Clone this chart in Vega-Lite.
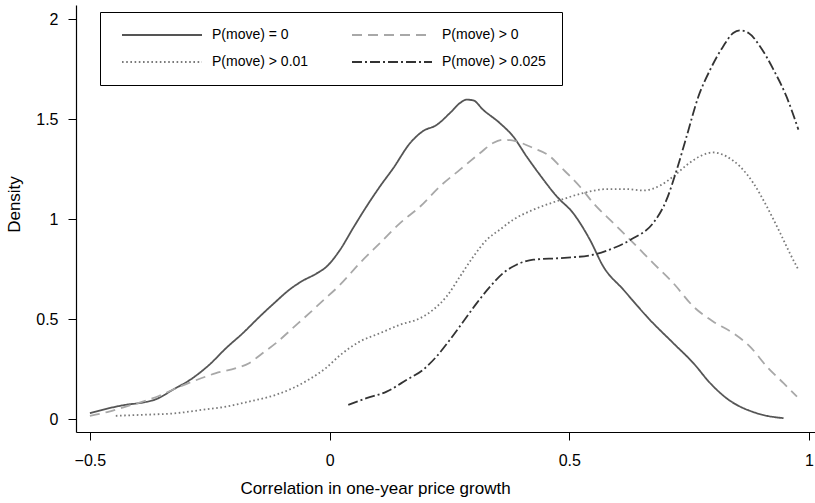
{
  "$schema": "https://vega.github.io/schema/vega-lite/v6.json",
  "width": 739,
  "height": 427,
  "autosize": {"type": "none"},
  "padding": {"left": 76, "top": 5, "right": 0, "bottom": 71},
  "background": "white",
  "config": {
    "view": {"stroke": null},
    "font": "Liberation Sans",
    "axis": {"grid": false, "domainColor": "#000", "tickColor": "#000", "labelColor": "#000", "titleColor": "#000", "domainWidth": 1.2, "tickWidth": 1, "labelFont": "Liberation Sans", "titleFont": "Liberation Sans", "titleFontWeight": "normal"}
  },
  "datasets": {
    "curves": [
      {"s": "P(move) = 0", "x": -0.50, "y": 0.03},
      {"s": "P(move) = 0", "x": -0.46, "y": 0.055},
      {"s": "P(move) = 0", "x": -0.425, "y": 0.072},
      {"s": "P(move) = 0", "x": -0.39, "y": 0.083},
      {"s": "P(move) = 0", "x": -0.362, "y": 0.10},
      {"s": "P(move) = 0", "x": -0.327, "y": 0.147},
      {"s": "P(move) = 0", "x": -0.286, "y": 0.205},
      {"s": "P(move) = 0", "x": -0.251, "y": 0.272},
      {"s": "P(move) = 0", "x": -0.216, "y": 0.355},
      {"s": "P(move) = 0", "x": -0.181, "y": 0.43},
      {"s": "P(move) = 0", "x": -0.147, "y": 0.51},
      {"s": "P(move) = 0", "x": -0.112, "y": 0.588},
      {"s": "P(move) = 0", "x": -0.084, "y": 0.647},
      {"s": "P(move) = 0", "x": -0.056, "y": 0.692},
      {"s": "P(move) = 0", "x": -0.028, "y": 0.727},
      {"s": "P(move) = 0", "x": -0.006, "y": 0.763},
      {"s": "P(move) = 0", "x": 0.022, "y": 0.847},
      {"s": "P(move) = 0", "x": 0.049, "y": 0.955},
      {"s": "P(move) = 0", "x": 0.077, "y": 1.063},
      {"s": "P(move) = 0", "x": 0.105, "y": 1.163},
      {"s": "P(move) = 0", "x": 0.133, "y": 1.255},
      {"s": "P(move) = 0", "x": 0.168, "y": 1.38},
      {"s": "P(move) = 0", "x": 0.195, "y": 1.44},
      {"s": "P(move) = 0", "x": 0.223, "y": 1.47},
      {"s": "P(move) = 0", "x": 0.251, "y": 1.53},
      {"s": "P(move) = 0", "x": 0.272, "y": 1.58},
      {"s": "P(move) = 0", "x": 0.286, "y": 1.597},
      {"s": "P(move) = 0", "x": 0.30, "y": 1.593},
      {"s": "P(move) = 0", "x": 0.32, "y": 1.547},
      {"s": "P(move) = 0", "x": 0.355, "y": 1.48},
      {"s": "P(move) = 0", "x": 0.383, "y": 1.413},
      {"s": "P(move) = 0", "x": 0.411, "y": 1.313},
      {"s": "P(move) = 0", "x": 0.439, "y": 1.22},
      {"s": "P(move) = 0", "x": 0.474, "y": 1.113},
      {"s": "P(move) = 0", "x": 0.508, "y": 1.03},
      {"s": "P(move) = 0", "x": 0.543, "y": 0.897},
      {"s": "P(move) = 0", "x": 0.571, "y": 0.763},
      {"s": "P(move) = 0", "x": 0.613, "y": 0.647},
      {"s": "P(move) = 0", "x": 0.668, "y": 0.497},
      {"s": "P(move) = 0", "x": 0.717, "y": 0.38},
      {"s": "P(move) = 0", "x": 0.759, "y": 0.28},
      {"s": "P(move) = 0", "x": 0.794, "y": 0.18},
      {"s": "P(move) = 0", "x": 0.828, "y": 0.105},
      {"s": "P(move) = 0", "x": 0.891, "y": 0.03},
      {"s": "P(move) = 0", "x": 0.947, "y": 0.005},

      {"s": "P(move) > 0", "x": -0.50, "y": 0.017},
      {"s": "P(move) > 0", "x": -0.46, "y": 0.038},
      {"s": "P(move) > 0", "x": -0.425, "y": 0.063},
      {"s": "P(move) > 0", "x": -0.39, "y": 0.088},
      {"s": "P(move) > 0", "x": -0.355, "y": 0.117},
      {"s": "P(move) > 0", "x": -0.32, "y": 0.155},
      {"s": "P(move) > 0", "x": -0.286, "y": 0.188},
      {"s": "P(move) > 0", "x": -0.237, "y": 0.23},
      {"s": "P(move) > 0", "x": -0.195, "y": 0.255},
      {"s": "P(move) > 0", "x": -0.168, "y": 0.28},
      {"s": "P(move) > 0", "x": -0.14, "y": 0.33},
      {"s": "P(move) > 0", "x": -0.112, "y": 0.38},
      {"s": "P(move) > 0", "x": -0.077, "y": 0.455},
      {"s": "P(move) > 0", "x": -0.042, "y": 0.53},
      {"s": "P(move) > 0", "x": -0.015, "y": 0.59},
      {"s": "P(move) > 0", "x": 0.022, "y": 0.672},
      {"s": "P(move) > 0", "x": 0.063, "y": 0.78},
      {"s": "P(move) > 0", "x": 0.105, "y": 0.88},
      {"s": "P(move) > 0", "x": 0.147, "y": 0.98},
      {"s": "P(move) > 0", "x": 0.189, "y": 1.063},
      {"s": "P(move) > 0", "x": 0.23, "y": 1.163},
      {"s": "P(move) > 0", "x": 0.272, "y": 1.247},
      {"s": "P(move) > 0", "x": 0.314, "y": 1.33},
      {"s": "P(move) > 0", "x": 0.341, "y": 1.38},
      {"s": "P(move) > 0", "x": 0.362, "y": 1.397},
      {"s": "P(move) > 0", "x": 0.39, "y": 1.388},
      {"s": "P(move) > 0", "x": 0.425, "y": 1.355},
      {"s": "P(move) > 0", "x": 0.46, "y": 1.313},
      {"s": "P(move) > 0", "x": 0.481, "y": 1.263},
      {"s": "P(move) > 0", "x": 0.522, "y": 1.163},
      {"s": "P(move) > 0", "x": 0.55, "y": 1.08},
      {"s": "P(move) > 0", "x": 0.592, "y": 0.98},
      {"s": "P(move) > 0", "x": 0.634, "y": 0.88},
      {"s": "P(move) > 0", "x": 0.675, "y": 0.78},
      {"s": "P(move) > 0", "x": 0.717, "y": 0.68},
      {"s": "P(move) > 0", "x": 0.759, "y": 0.563},
      {"s": "P(move) > 0", "x": 0.80, "y": 0.488},
      {"s": "P(move) > 0", "x": 0.842, "y": 0.43},
      {"s": "P(move) > 0", "x": 0.877, "y": 0.363},
      {"s": "P(move) > 0", "x": 0.912, "y": 0.263},
      {"s": "P(move) > 0", "x": 0.947, "y": 0.18},
      {"s": "P(move) > 0", "x": 0.975, "y": 0.113},

      {"s": "P(move) > 0.01", "x": -0.446, "y": 0.017},
      {"s": "P(move) > 0.01", "x": -0.39, "y": 0.022},
      {"s": "P(move) > 0.01", "x": -0.32, "y": 0.03},
      {"s": "P(move) > 0.01", "x": -0.265, "y": 0.047},
      {"s": "P(move) > 0.01", "x": -0.216, "y": 0.063},
      {"s": "P(move) > 0.01", "x": -0.168, "y": 0.088},
      {"s": "P(move) > 0.01", "x": -0.112, "y": 0.122},
      {"s": "P(move) > 0.01", "x": -0.077, "y": 0.155},
      {"s": "P(move) > 0.01", "x": -0.042, "y": 0.20},
      {"s": "P(move) > 0.01", "x": -0.008, "y": 0.255},
      {"s": "P(move) > 0.01", "x": 0.022, "y": 0.32},
      {"s": "P(move) > 0.01", "x": 0.063, "y": 0.388},
      {"s": "P(move) > 0.01", "x": 0.105, "y": 0.43},
      {"s": "P(move) > 0.01", "x": 0.147, "y": 0.472},
      {"s": "P(move) > 0.01", "x": 0.189, "y": 0.505},
      {"s": "P(move) > 0.01", "x": 0.216, "y": 0.547},
      {"s": "P(move) > 0.01", "x": 0.244, "y": 0.613},
      {"s": "P(move) > 0.01", "x": 0.272, "y": 0.713},
      {"s": "P(move) > 0.01", "x": 0.30, "y": 0.813},
      {"s": "P(move) > 0.01", "x": 0.328, "y": 0.897},
      {"s": "P(move) > 0.01", "x": 0.355, "y": 0.947},
      {"s": "P(move) > 0.01", "x": 0.383, "y": 0.997},
      {"s": "P(move) > 0.01", "x": 0.425, "y": 1.047},
      {"s": "P(move) > 0.01", "x": 0.481, "y": 1.095},
      {"s": "P(move) > 0.01", "x": 0.529, "y": 1.13},
      {"s": "P(move) > 0.01", "x": 0.578, "y": 1.15},
      {"s": "P(move) > 0.01", "x": 0.62, "y": 1.15},
      {"s": "P(move) > 0.01", "x": 0.654, "y": 1.143},
      {"s": "P(move) > 0.01", "x": 0.689, "y": 1.167},
      {"s": "P(move) > 0.01", "x": 0.717, "y": 1.213},
      {"s": "P(move) > 0.01", "x": 0.745, "y": 1.27},
      {"s": "P(move) > 0.01", "x": 0.772, "y": 1.313},
      {"s": "P(move) > 0.01", "x": 0.80, "y": 1.333},
      {"s": "P(move) > 0.01", "x": 0.828, "y": 1.313},
      {"s": "P(move) > 0.01", "x": 0.856, "y": 1.263},
      {"s": "P(move) > 0.01", "x": 0.884, "y": 1.18},
      {"s": "P(move) > 0.01", "x": 0.912, "y": 1.063},
      {"s": "P(move) > 0.01", "x": 0.94, "y": 0.93},
      {"s": "P(move) > 0.01", "x": 0.96, "y": 0.83},
      {"s": "P(move) > 0.01", "x": 0.978, "y": 0.747},

      {"s": "P(move) > 0.025", "x": 0.039, "y": 0.072},
      {"s": "P(move) > 0.025", "x": 0.077, "y": 0.105},
      {"s": "P(move) > 0.025", "x": 0.119, "y": 0.138},
      {"s": "P(move) > 0.025", "x": 0.161, "y": 0.197},
      {"s": "P(move) > 0.025", "x": 0.195, "y": 0.247},
      {"s": "P(move) > 0.025", "x": 0.223, "y": 0.313},
      {"s": "P(move) > 0.025", "x": 0.251, "y": 0.397},
      {"s": "P(move) > 0.025", "x": 0.279, "y": 0.488},
      {"s": "P(move) > 0.025", "x": 0.307, "y": 0.58},
      {"s": "P(move) > 0.025", "x": 0.335, "y": 0.663},
      {"s": "P(move) > 0.025", "x": 0.362, "y": 0.73},
      {"s": "P(move) > 0.025", "x": 0.39, "y": 0.772},
      {"s": "P(move) > 0.025", "x": 0.425, "y": 0.797},
      {"s": "P(move) > 0.025", "x": 0.481, "y": 0.805},
      {"s": "P(move) > 0.025", "x": 0.55, "y": 0.822},
      {"s": "P(move) > 0.025", "x": 0.592, "y": 0.855},
      {"s": "P(move) > 0.025", "x": 0.634, "y": 0.905},
      {"s": "P(move) > 0.025", "x": 0.675, "y": 0.98},
      {"s": "P(move) > 0.025", "x": 0.703, "y": 1.097},
      {"s": "P(move) > 0.025", "x": 0.724, "y": 1.245},
      {"s": "P(move) > 0.025", "x": 0.745, "y": 1.415},
      {"s": "P(move) > 0.025", "x": 0.769, "y": 1.61},
      {"s": "P(move) > 0.025", "x": 0.794, "y": 1.747},
      {"s": "P(move) > 0.025", "x": 0.821, "y": 1.863},
      {"s": "P(move) > 0.025", "x": 0.842, "y": 1.93},
      {"s": "P(move) > 0.025", "x": 0.856, "y": 1.943},
      {"s": "P(move) > 0.025", "x": 0.874, "y": 1.93},
      {"s": "P(move) > 0.025", "x": 0.898, "y": 1.863},
      {"s": "P(move) > 0.025", "x": 0.926, "y": 1.747},
      {"s": "P(move) > 0.025", "x": 0.953, "y": 1.613},
      {"s": "P(move) > 0.025", "x": 0.978, "y": 1.447}
    ]
  },
  "data": {"name": "curves"},
  "mark": {"type": "line", "interpolate": "monotone", "strokeWidth": 1.8},
  "encoding": {
    "x": {
      "field": "x", "type": "quantitative",
      "scale": {"domain": [-0.529, 1.0126], "nice": false, "zero": false},
      "axis": {"values": [-0.5, 0, 0.5, 1], "format": "~g", "title": "Correlation in one-year price growth", "labelFontSize": 16, "titleFontSize": 17, "tickSize": 8, "labelPadding": 12, "titlePadding": 12, "titleX": 299, "labelFlush": false}
    },
    "y": {
      "field": "y", "type": "quantitative",
      "scale": {"domain": [-0.064, 2.07], "nice": false, "zero": false},
      "axis": {"values": [0, 0.5, 1, 1.5, 2], "format": "~g", "title": "Density", "labelFontSize": 16, "titleFontSize": 17, "tickSize": 8, "labelPadding": 10, "titlePadding": 12, "titleY": 199, "labelFlush": false}
    },
    "color": {
      "field": "s", "type": "nominal",
      "scale": {"domain": ["P(move) = 0", "P(move) > 0", "P(move) > 0.01", "P(move) > 0.025"], "range": ["#555555", "#a8a8a8", "#7a7a7a", "#333333"]},
      "legend": {
        "title": null, "orient": "none", "legendX": 24, "legendY": 7, "columns": 2, "direction": "horizontal",
        "symbolType": "M-0.2,0L15.8,0", "symbolSize": 100, "symbolStrokeWidth": 1.8, "symbolFillColor": "transparent",
        "labelFontSize": 14, "labelFont": "Liberation Sans", "labelColor": "#000", "labelOffset": 82,
        "columnPadding": 37, "rowPadding": 13, "padding": 16,
        "strokeColor": "#000", "fillColor": "white"
      }
    },
    "strokeDash": {
      "field": "s", "type": "nominal",
      "scale": {"domain": ["P(move) = 0", "P(move) > 0", "P(move) > 0.01", "P(move) > 0.025"], "range": [[1, 0], [10, 6], [1.6, 2.6], [10, 3, 2, 3]]},
      "legend": null
    }
  }
}
